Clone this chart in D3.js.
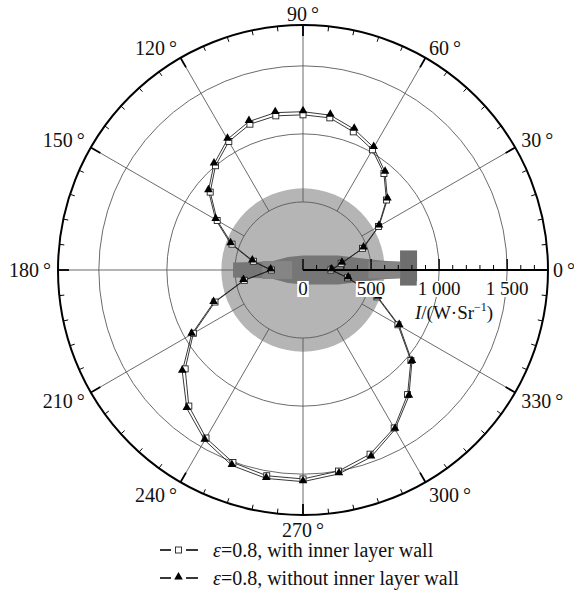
<!DOCTYPE html>
<html>
<head>
<meta charset="utf-8">
<script src="https://cdn.jsdelivr.net/npm/d3@7"></script>
<style>
  html, body { margin: 0; padding: 0; background: #fff; }
  svg { display: block; }
  text { font-family: "Liberation Serif", "DejaVu Serif", serif; fill: #111; }
</style>
</head>
<body>
<svg id="chart" width="574" height="599"></svg>
<script>
// Polar angle of each sample, degrees counter-clockwise from the +x axis
const angles = [0, 10, 20, 30, 40, 50, 60, 70, 80, 90, 100, 110, 120, 130, 140, 150, 160, 170,
                180, 190, 200, 210, 220, 230, 240, 250, 260, 270, 280, 290, 300, 310, 320, 330, 340, 350];

// Radiant intensity I, W·Sr⁻¹
const withInnerWall = [205, 285, 465, 640, 800, 925, 1020, 1080, 1135, 1140, 1150, 1140, 1090, 1000, 890, 728, 555, 370,
                       232, 438, 688, 930, 1130, 1305, 1425, 1505, 1535, 1535, 1500, 1440, 1340, 1195, 1035, 805, 578, 332];
const withoutInnerWall = [211, 290, 473, 645, 810, 938, 1039, 1101, 1155, 1163, 1174, 1161, 1109, 1017, 907, 741, 566, 378,
                          237, 444, 699, 945, 1158, 1328, 1444, 1528, 1555, 1555, 1521, 1462, 1352, 1210, 1045, 816, 587, 337];

const angleTicks = [0, 30, 60, 90, 120, 150, 180, 210, 240, 270, 300, 330];
const gridRadii = [500, 1000, 1500];
const radialTicks = [0, 500, 1000, 1500];
const radialTickLabels = ["0", "500", "1 000", "1 500"];
const radialMax = 1800;

const seriesNames = ["=0.8, with inner layer wall", "=0.8, without inner layer wall"];

// Silhouette of the source body lying along the 0°–180° axis: [position along axis, half height], in I units
const bodyOutline = [[-514, 55], [-300, 60], [-220, 66], [-110, 95], [0, 106], [257, 106], [441, 84], [588, 68], [713, 60]];
const flange = [713, 838, 129];   // start, end, half height
const plumeDisk = 600;            // radius of the shaded disk

const cx = 303, cy = 270, R = 245;
const svg = d3.select("#chart");
const g = svg.append("g").attr("transform", `translate(${cx},${cy})`);
const r = d3.scaleLinear().domain([0, radialMax]).range([0, R]);
const rad = d => d * Math.PI / 180;
const px = (v, a) => r(v) * Math.cos(rad(a));
const py = (v, a) => -r(v) * Math.sin(rad(a));

// shaded disk
g.append("circle").attr("r", r(plumeDisk)).attr("fill", "#b5b5b5");

// grid circles
g.selectAll("circle.grid").data(gridRadii).join("circle")
  .attr("class", "grid").attr("r", d => r(d))
  .attr("fill", "none").attr("stroke", "#5a5a5a").attr("stroke-width", 0.9);

// spokes
g.selectAll("line.spoke").data(angleTicks.filter(a => a !== 0)).join("line")
  .attr("x1", a => px(500, a)).attr("y1", a => py(500, a))
  .attr("x2", a => px(radialMax, a)).attr("y2", a => py(radialMax, a))
  .attr("stroke", "#5a5a5a").attr("stroke-width", 0.9);

// body silhouette
const bx = d3.scaleLinear().domain([0, radialMax]).range([0, R]);
const upperEdge = bodyOutline.map(([u, h]) => [bx(u), -bx(h)]);
const lowerEdge = bodyOutline.slice().reverse().map(([u, h]) => [bx(u), bx(h)]);
g.append("path").attr("d", d3.line()(upperEdge.concat(lowerEdge)) + "Z").attr("fill", "#767676");
g.append("rect")
  .attr("x", bx(-300)).attr("y", -bx(66)).attr("width", bx(300 - 80)).attr("height", bx(132))
  .attr("fill", "#858585");
g.append("rect")
  .attr("x", bx(480)).attr("y", -bx(62)).attr("width", bx(713 - 480)).attr("height", bx(124))
  .attr("fill", "#8a8a8a").attr("opacity", 0.8);
g.append("rect")
  .attr("x", bx(flange[0])).attr("y", -bx(flange[2]) - 2).attr("width", bx(flange[1] - flange[0])).attr("height", bx(2 * flange[2]))
  .attr("fill", "#6e6e6e");

// radial axis along 0°
const ax = g.append("g");
ax.append("line").attr("x1", 0).attr("x2", r(radialMax)).attr("y1", 0).attr("y2", 0)
  .attr("stroke", "#000").attr("stroke-width", 2);
const minorR = d3.range(100, radialMax, 100).filter(v => v % 500 !== 0);
ax.selectAll("line.minor").data(minorR).join("line")
  .attr("x1", d => r(d)).attr("x2", d => r(d)).attr("y1", 0).attr("y2", -5)
  .attr("stroke", "#000").attr("stroke-width", 1);
ax.selectAll("line.major").data(radialTicks).join("line")
  .attr("x1", d => r(d)).attr("x2", d => r(d)).attr("y1", 0).attr("y2", -11)
  .attr("stroke", "#000").attr("stroke-width", 1.4);

// series
const line = d3.lineRadial().curve(d3.curveLinearClosed)
  .angle(d => rad(90 - d[0])).radius(d => r(d[1]));
const seriesA = angles.map((a, i) => [a, withInnerWall[i]]);
const seriesB = angles.map((a, i) => [a, withoutInnerWall[i]]);
[seriesA, seriesB].forEach(s => {
  g.append("path").attr("d", line(s)).attr("fill", "none").attr("stroke", "#222").attr("stroke-width", 0.9);
});
g.selectAll("rect.sq").data(seriesA).join("rect")
  .attr("x", d => px(d[1], d[0]) - 3).attr("y", d => py(d[1], d[0]) - 3)
  .attr("width", 6).attr("height", 6)
  .attr("fill", "#fff").attr("stroke", "#222").attr("stroke-width", 0.9);
const tri = d3.symbol().type(d3.symbolTriangle).size(32);
g.selectAll("path.tri").data(seriesB).join("path")
  .attr("d", tri).attr("transform", d => `translate(${px(d[1], d[0])},${py(d[1], d[0]) - 1})`)
  .attr("fill", "#000");

// radial tick labels with white backing
radialTicks.forEach((v, i) => {
  const t = g.append("text").attr("x", r(v)).attr("y", 25)
    .attr("text-anchor", "middle").attr("font-size", 19).text(radialTickLabels[i]);
  const b = t.node().getBBox();
  g.insert("rect", () => t.node())
    .attr("x", b.x - 1).attr("y", b.y + 3).attr("width", b.width + 2).attr("height", b.height - 5)
    .attr("fill", "#fff");
});
const unit = g.append("text").attr("x", r(1110)).attr("y", 49)
  .attr("text-anchor", "middle").attr("font-size", 19);
unit.append("tspan").attr("font-style", "italic").text("I");
unit.append("tspan").text("/(W·Sr");
unit.append("tspan").attr("font-size", 12).attr("dy", -8).text("−1");
unit.append("tspan").attr("dy", 8).text(")");

// outer frame with angular ticks
g.append("circle").attr("r", R).attr("fill", "none").attr("stroke", "#000").attr("stroke-width", 2);
g.selectAll("line.atick").data(d3.range(0, 360, 6)).join("line")
  .attr("x1", a => R * Math.cos(rad(a))).attr("y1", a => -R * Math.sin(rad(a)))
  .attr("x2", a => (R - (a % 30 === 0 ? 11 : 5)) * Math.cos(rad(a)))
  .attr("y2", a => -(R - (a % 30 === 0 ? 11 : 5)) * Math.sin(rad(a)))
  .attr("stroke", "#000").attr("stroke-width", a => a % 30 === 0 ? 1.8 : 1);

// angle labels
g.selectAll("text.ang").data(angleTicks).join("text")
  .attr("font-size", 20)
  .attr("text-anchor", a => {
    const c = Math.cos(rad(a));
    return Math.abs(c) < 0.01 ? "middle" : (c > 0 ? "start" : "end");
  })
  .attr("x", a => (a === 0 ? R + 5 : R + 7) * Math.cos(rad(a)))
  .attr("y", a => {
    const s = Math.sin(rad(a));
    if (Math.abs(s) < 0.01) return 7;
    return s > 0 ? -(R + 7) * s - 4 + 7 : -(R + 7) * s + 4 + 7 + 4 * s * s;
  })
  .text(a => a + "\u2009°");

// legend
const legendY = [550, 578];
legendY.forEach((y, i) => {
  const lg = svg.append("g").attr("transform", `translate(0,${y})`);
  lg.append("line").attr("x1", 160).attr("x2", 171).attr("stroke", "#222").attr("stroke-width", 1.8);
  lg.append("line").attr("x1", 186).attr("x2", 198).attr("stroke", "#222").attr("stroke-width", 1.8);
  if (i === 0) {
    lg.append("rect").attr("x", 175.5).attr("y", -3).attr("width", 6).attr("height", 6)
      .attr("fill", "#fff").attr("stroke", "#222").attr("stroke-width", 0.9);
  } else {
    lg.append("path").attr("d", tri).attr("transform", "translate(178.5,-1)").attr("fill", "#000");
  }
  const t = lg.append("text").attr("x", 213).attr("y", 7).attr("font-size", 20);
  t.append("tspan").attr("font-style", "italic").text("ε");
  t.append("tspan").text(seriesNames[i]);
});
</script>
</body>
</html>
